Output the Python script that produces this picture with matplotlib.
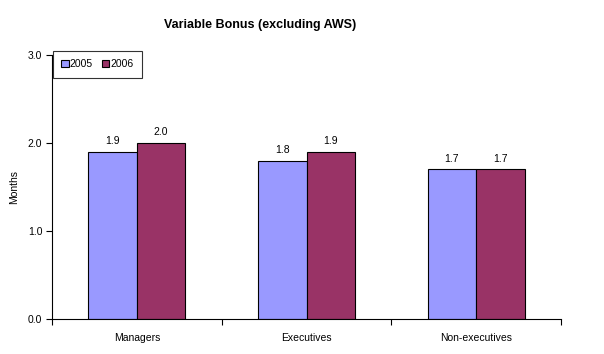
import matplotlib
matplotlib.use('Agg')
import matplotlib.pyplot as plt
import numpy as np

plt.rcParams['font.family'] = ['Liberation Sans', 'DejaVu Sans']

categories = ['Managers', 'Executives', 'Non-executives']
years = ['2005', '2006']
bonus_2005 = [1.9, 1.8, 1.7]
bonus_2006 = [2.0, 1.9, 1.7]
yticks = [0.0, 1.0, 2.0, 3.0]

fig = plt.figure(figsize=(6.04, 3.54), dpi=100)
ax = fig.add_axes([52/604, 1-319/354, (561-52)/604, (319-55)/354])

x = np.arange(len(categories))
w = 1/3.5
b1 = ax.bar(x - w/2, bonus_2005, w, color='#9999FF', edgecolor='black', linewidth=0.8, label=years[0])
b2 = ax.bar(x + w/2, bonus_2006, w, color='#993366', edgecolor='black', linewidth=0.8, label=years[1])

for bars in (b1, b2):
    for r in bars:
        ax.annotate('%.1f' % r.get_height(), (r.get_x() + r.get_width()/2, r.get_height()),
                    xytext=(0, 4), textcoords='offset points', ha='center', va='bottom', fontsize=7.5)

ax.set_xlim(-0.5, 2.5)
ax.set_ylim(0, 3)
ax.set_yticks(yticks)
ax.set_yticklabels(['%.1f' % v for v in yticks], fontsize=7.5)
ax.set_xticks(x)
ax.set_xticklabels(categories, fontsize=7.5)
ax.set_xticks([-0.5, 0.5, 1.5, 2.5], minor=True)
ax.tick_params(axis='x', which='major', length=0, pad=10)
ax.tick_params(axis='x', which='minor', length=4, direction='out', width=0.8)
ax.tick_params(axis='y', length=4, direction='out', width=0.8, pad=3)
for s in ('top', 'right'):
    ax.spines[s].set_visible(False)
for s in ('left', 'bottom'):
    ax.spines[s].set_linewidth(0.8)

ax.set_ylabel('Months', fontsize=7.5, labelpad=6)

fig.text(260/604, 1-25/354, 'Variable Bonus (excluding AWS)', ha='center', va='center',
         fontsize=9, fontweight='bold')

leg = ax.legend(loc='upper left', bbox_to_anchor=(53/604, 1-51/354), bbox_transform=fig.transFigure,
                ncol=2, fontsize=7.5, frameon=True, fancybox=False, handlelength=0.7, handleheight=0.7,
                handletextpad=0.1, columnspacing=0.9, borderpad=0.8, borderaxespad=0)
leg.get_frame().set_edgecolor('black')
leg.get_frame().set_linewidth(0.8)

fig.savefig('out.png', dpi=100)
